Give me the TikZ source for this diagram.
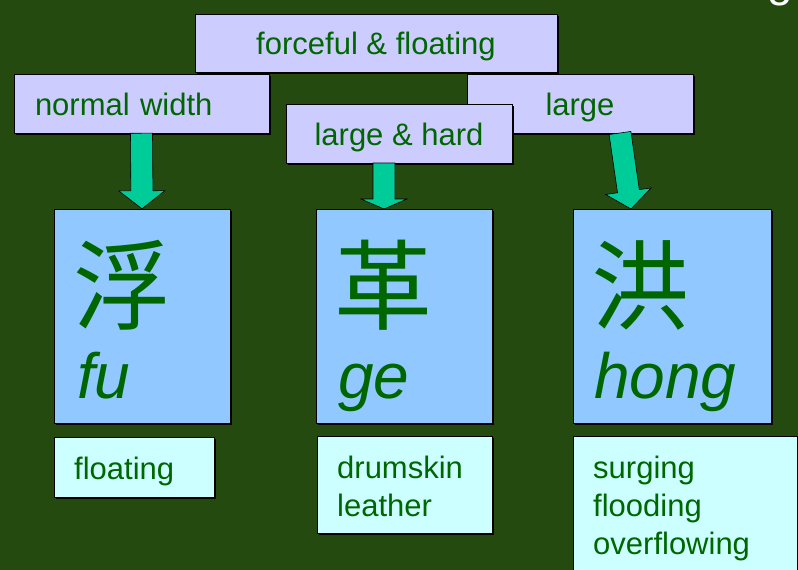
\documentclass[tikz,border=0pt]{standalone}
\usepackage        {fontspec}
\setmainfont       {Liberation Sans}
\newfontfamily\cjk {Noto Sans CJK SC}
\usetikzlibrary    {calc,shadows}

\definecolor{bggreen}  {RGB}{36,74,16}
\definecolor{lav}      {RGB}{204,204,255}
\definecolor{skyblue}  {RGB}{145,200,255}
\definecolor{paleaqua} {RGB}{204,255,255}
\definecolor{txtgreen} {RGB}{0,102,0}
\definecolor{arrowteal}{RGB}{0,204,153}

% block arrow from #2 to #3, head length #1
\newcommand\fatarrow[3][18pt]{%
  \coordinate (hb) at ($(#3)!#1!(#2)$);
  \filldraw[arrowfill] ($(#2)!11pt!90:(#3)$) -- ($(hb)!11pt!-90:(#2)$)
    -- ($(hb)!23pt!-90:(#2)$) -- (#3) -- ($(hb)!23pt!90:(#2)$)
    -- ($(hb)!11pt!90:(#2)$) -- ($(#2)!11pt!-90:(#3)$) -- cycle;}

\begin{document}
\begin{tikzpicture}
  [x=1pt,y=-1pt,
   every node/.style={text=txtgreen},
   shade/.style={drop shadow={shadow xshift=1.5pt,shadow yshift=-1.5pt,fill=black,opacity=1}},
   tag/.style={rectangle,draw=black,fill=lav,shade,minimum height=59pt,
     text height=23pt,text depth=0pt,font=\fontsize{31}{38}\selectfont},
   pulse/.style={rectangle,draw=black,fill=skyblue,shade,minimum height=214pt},
   hanzi/.style={anchor=base west,inner sep=0pt,font=\cjk\fontsize{98}{104}\selectfont},
   pinyin/.style={anchor=base west,inner sep=0pt,font=\fontsize{64}{72}\selectfont\itshape},
   gloss/.style={anchor=north west,draw=black,fill=paleaqua,shade,inner xsep=20pt,
     inner ysep=0pt,text height=42pt,align=left,font=\fontsize{31}{38}\selectfont},
   arrowfill/.style={fill=arrowteal,draw=black,line width=.6pt}]
  \useasboundingbox (0,0) rectangle (798,570);
  \fill[bggreen] (0,0) rectangle (798,570);
  \clip (0,0) rectangle (798,570);

  \node[white,anchor=base west,inner sep=0pt,font=\fontsize{46}{50}\selectfont] (ttl) at (767,-4) {g};

  \node[tag,minimum width=362pt,minimum height=58pt] (ff) at (376,43) {forceful \& floating};
  \node[tag,text width=213pt,inner xsep=21pt,align=left] (nw) at (141.5,103.5) {normal width};
  \node[tag,minimum width=226pt] (lg) at (580,103.5) {large};
  \node[tag,minimum width=226pt] (lh) at (399,133.5) {large \& hard};

  \node[pulse,minimum width=176pt] (fu) at (142,316) {};
  \node[pulse,minimum width=176pt] (ge) at (404,316) {};
  \node[pulse,minimum width=198pt] (hong) at (672,316.5) {};

  \node[hanzi] (fuz) at (73,322) {浮};
  \node[hanzi] (gez) at (334,322) {革};
  \node[hanzi] (hongz) at (591,322) {洪};
  \node[pinyin] (fup) at (77,398) {fu};
  \node[pinyin] (gep) at (338,398) {ge};
  \node[pinyin] (hongp) at (594,398) {hong};

  \node[gloss,text width=120pt,text depth=18pt] (flt) at (54,437) {floating};
  \node[gloss,text width=135pt,text depth=55pt] (drm) at (317,436) {drumskin\\leather};
  \node[gloss,text width=184pt,text depth=115pt] (srg) at (573,436) {surging\\flooding\\overflowing};

  \coordinate (lhs) at (384,163);
  \coordinate (get) at (384,209);
  \coordinate (lgs) at (620,133);
  \coordinate (hongt) at (631,209);

  \fatarrow{nw.south}{fu.north}
  \fatarrow[10pt]{lhs}{get}
  \fatarrow{lgs}{hongt}

\end{tikzpicture}
\end{document}
